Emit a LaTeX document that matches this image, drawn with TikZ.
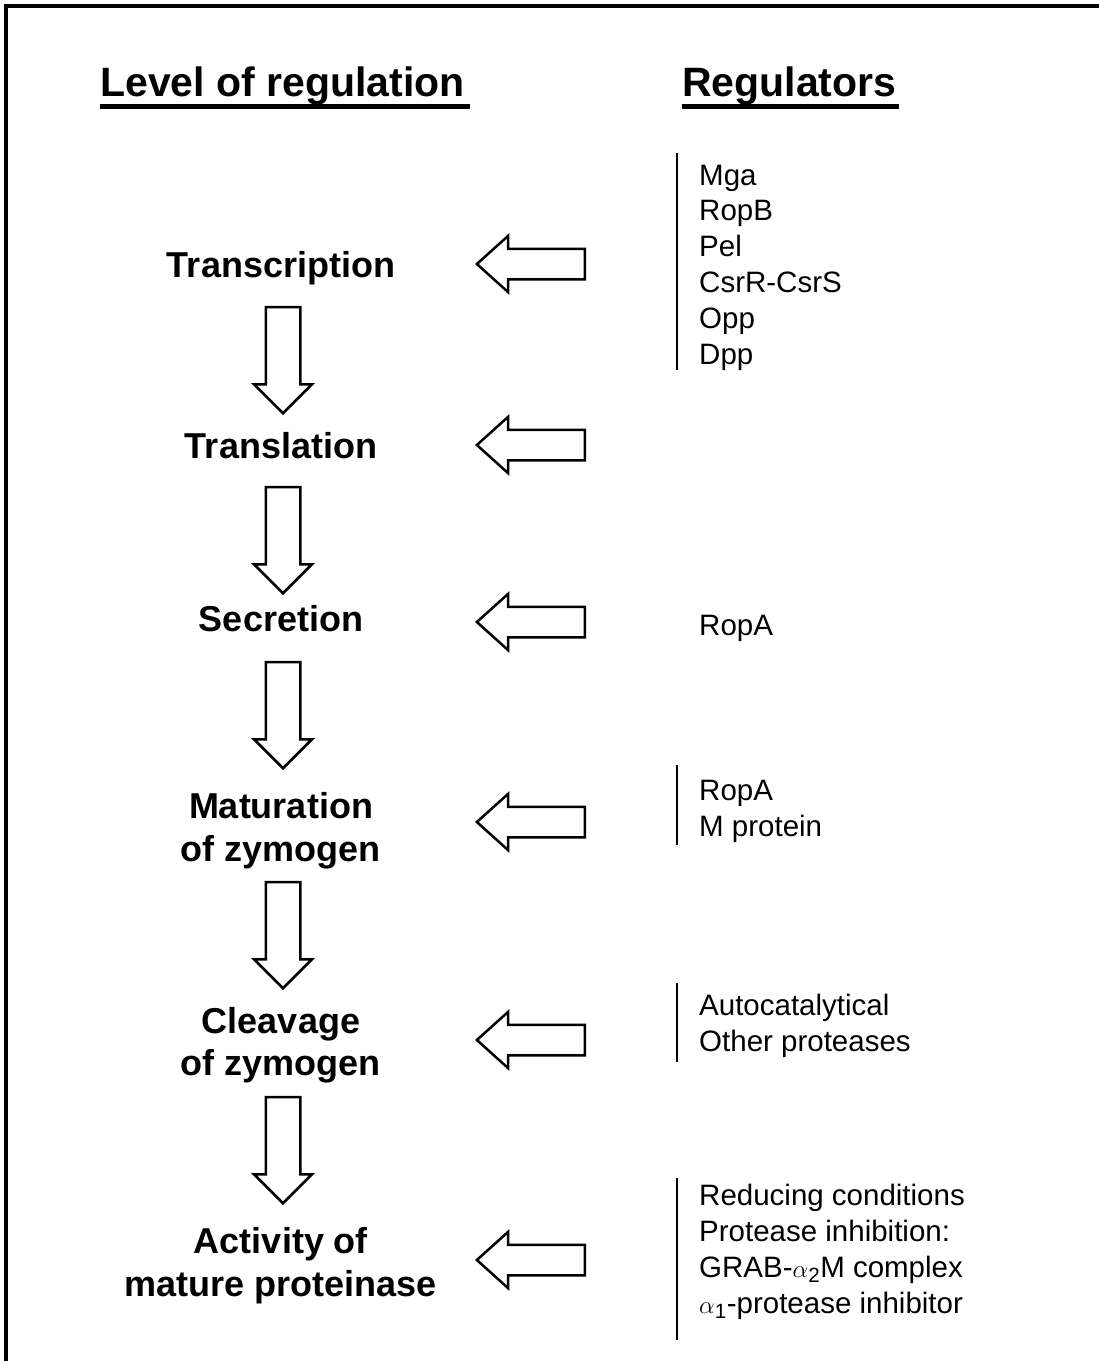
\documentclass[tikz,border=0pt]{standalone}
\usepackage{fontspec}
\setmainfont{Liberation Sans}
\usetikzlibrary{shapes.arrows}
\tikzstyle{level} = [font=\fontsize{36}{43}\selectfont\bfseries,anchor=base,inner sep=0pt]
\tikzstyle{regtext} = [font=\fontsize{29.5}{35}\selectfont,anchor=base west,inner sep=0pt]

\begin{document}
\begin{tikzpicture}
		[
		x=1pt,y=-1pt,
		heading/.style={
		font=\fontsize{41}{49}\selectfont\bfseries,
		anchor=base west,
		inner sep=0pt},
		uline/.style={line width=5pt},
		leftarrow/.style={
		single arrow,draw,line width=2.5pt,
		shape border rotate=180,
		single arrow head extend=13pt,
		single arrow tip angle=84,
		inner sep=14pt,
		minimum height=108pt,
		anchor=tip},
		downarrow/.style={
		single arrow,draw,line width=2.5pt,
		shape border rotate=270,
		single arrow head extend=11.5pt,
		single arrow tip angle=90,
		inner sep=16pt,
		minimum height=106pt,
		anchor=tip},
		bar/.style={line width=2pt}
		]
		\useasboundingbox (0,0) rectangle (1099,1361);
		\draw[line width=4pt] (6,1361) -- (6,6) -- (1099,6);

		% headings
		\node[heading] (lvl) at (100,96) {Level of regulation};
		\node[heading] (regs) at (682,96) {Regulators};
		\draw[uline] ([yshift=-10pt]lvl.base west) -- ([xshift=5pt,yshift=-10pt]lvl.base east);
		\draw[uline] ([yshift=-10pt]regs.base west) -- ([xshift=2pt,yshift=-10pt]regs.base east);

		% levels
		\node[level] (transcription) at (281,277) {Transcription};
		\node[level] (translation) at (281,458) {Translation};
		\node[level] (secretion) at (281,631) {Secretion};
		\node[level] (maturation) at (281,818) {Maturation};
		\node[level] (maturation2) at (281,861) {of zymogen};
		\node[level] (cleavage) at (281,1033) {Cleavage};
		\node[level] (cleavage2) at (281,1075) {of zymogen};
		\node[level] (activity) at (281,1253) {Activity of};
		\node[level] (activity2) at (281,1296) {mature proteinase};

		% arrows down the levels
		\node[downarrow] (d1) at (283,415) {};
		\node[downarrow] (d2) at (283,595) {};
		\node[downarrow] (d3) at (283,770) {};
		\node[downarrow] (d4) at (283,990) {};
		\node[downarrow] (d5) at (283,1205) {};

		% arrows from the regulators
		\node[leftarrow] (l1) at (475,264) {};
		\node[leftarrow] (l2) at (475,445) {};
		\node[leftarrow] (l3) at (475,622) {};
		\node[leftarrow] (l4) at (475,822) {};
		\node[leftarrow] (l5) at (475,1040) {};
		\node[leftarrow] (l6) at (475,1260) {};

		% regulators
		\foreach \txt [count=\i from 0] in {Mga,RopB,Pel,CsrR-CsrS,Opp,Dpp}
			\node[regtext] (tr\i) at (699,{185+35.8*\i}) {\txt};
		\draw[bar] (677,153) -- (677,370);

		\node[regtext] (sec) at (699,635) {RopA};

		\node[regtext] (mat0) at (699,800) {RopA};
		\node[regtext] (mat1) at (699,836) {M protein};
		\draw[bar] (677,765) -- (677,845);

		\node[regtext] (cl0) at (699,1015) {Autocatalytical};
		\node[regtext] (cl1) at (699,1051) {Other proteases};
		\draw[bar] (677,983) -- (677,1062);

		\foreach \txt [count=\i from 0] in {Reducing conditions,Protease inhibition:,{GRAB-$\alpha$\textsubscript{2}M complex},{$\alpha$\textsubscript{1}-protease inhibitor}}
			\node[regtext] (act\i) at (699,{1205+36*\i}) {\txt};
		\draw[bar] (677,1178) -- (677,1340);
		\end{tikzpicture}
\end{document}
